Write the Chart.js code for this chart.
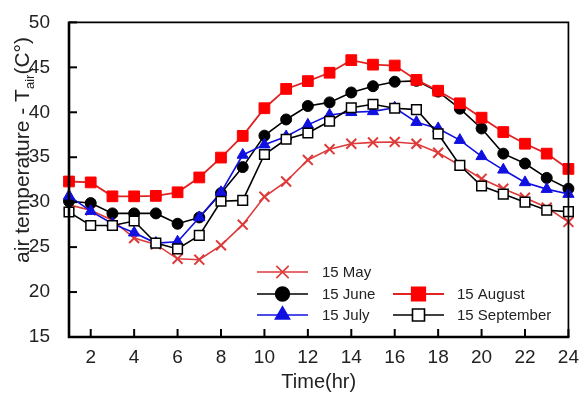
<!DOCTYPE html>
<html>
<head>
<meta charset="utf-8">
<script src="https://cdn.jsdelivr.net/npm/chart.js@4/dist/chart.umd.min.js"></script>
<style>
html,body{margin:0;padding:0;background:#fff}
#wrap{width:580px;height:393px;position:relative}
</style>
</head>
<body>
<div id="wrap"><canvas id="c"></canvas></div>
<script>
// data
const hours=[1,2,3,4,5,6,7,8,9,10,11,12,13,14,15,16,17,18,19,20,21,22,23,24];
const yTicks=[15,20,25,30,35,40,45,50];
const may =[29.7,29.1,28.0,26.0,25.3,23.7,23.6,25.2,27.5,30.6,32.3,34.7,35.9,36.5,36.65,36.7,36.5,35.5,34.1,32.6,31.5,30.5,29.4,27.8];
const june=[30.1,29.9,28.75,28.75,28.75,27.6,28.3,31.0,33.9,37.4,39.2,40.7,41.1,42.2,42.9,43.4,43.5,42.3,40.4,38.2,35.4,34.3,32.7,31.5];
const july=[30.7,29.0,27.6,26.6,25.45,25.6,28.3,31.1,35.25,36.4,37.3,38.6,39.7,40.0,40.1,40.5,38.9,38.2,36.9,35.1,33.6,32.2,31.45,30.9];
const aug =[32.3,32.2,30.65,30.65,30.7,31.1,32.75,34.96,37.37,40.45,42.6,43.47,44.4,45.8,45.3,45.2,43.6,42.4,41.0,39.4,37.8,36.5,35.4,33.7];
const sep =[28.9,27.4,27.4,27.9,25.45,24.8,26.3,30.1,30.2,35.3,37.0,37.7,39.0,40.5,40.9,40.45,40.3,37.6,34.1,31.8,30.9,30.0,29.1,28.95];

const FONT='"Liberation Sans", Arial, sans-serif';
const RED='#e02424', RED2='#dd3a3a', BLUE='#1010e0';

// legend slots: [dataset index, line start x, text x, y]
const legendSlots=[[0,257,322,272],[1,257,322,294],[2,257,322,315],[3,393,457,294],[4,393,457,315]];

const frame={
  id:'frame',
  afterDraw(chart){
    const {ctx,chartArea:a,scales}=chart;
    ctx.save();
    ctx.strokeStyle='#000';
    // thin top/right
    ctx.lineWidth=1.7;
    ctx.beginPath();ctx.moveTo(a.left,a.top);ctx.lineTo(a.right,a.top);ctx.lineTo(a.right,a.bottom);ctx.stroke();
    // thick left/bottom
    ctx.lineWidth=2.6;
    ctx.beginPath();ctx.moveTo(a.left,a.top-0.8);ctx.lineTo(a.left,a.bottom);ctx.lineTo(a.right+1,a.bottom);ctx.stroke();
    // inward ticks
    ctx.lineWidth=2;
    yTicks.forEach(v=>{
      const y=scales.y.getPixelForValue(v);
      ctx.beginPath();ctx.moveTo(a.left,y);ctx.lineTo(a.left+8,y);ctx.stroke();
    });
    hours.forEach((h,i)=>{
      if(h%2) return;
      const x=scales.x.getPixelForValue(i);
      ctx.beginPath();ctx.moveTo(x,a.bottom);ctx.lineTo(x,a.bottom-8);ctx.stroke();
    });
    // axis titles
    ctx.fillStyle='#222';
    ctx.font='20px '+FONT;
    ctx.textAlign='center';ctx.textBaseline='middle';
    ctx.fillText('Time(hr)',(a.left+a.right)/2,382);
    ctx.translate(22,150);ctx.rotate(-Math.PI/2);
    const parts=[['air temperature - T',21,0],['air',13,5],['(C°)',21,0]];
    let w=0;
    parts.forEach(p=>{ctx.font=p[1]+'px '+FONT;w+=ctx.measureText(p[0]).width;});
    let x=-w/2;
    ctx.textAlign='left';ctx.textBaseline='alphabetic';
    parts.forEach(p=>{ctx.font=p[1]+'px '+FONT;ctx.fillText(p[0],x,7+p[2]);x+=ctx.measureText(p[0]).width;});
    ctx.restore();
  }
};

const legend={
  id:'legendBox',
  afterDraw(chart){
    const ctx=chart.ctx;
    ctx.save();
    legendSlots.forEach(([i,x0,tx,y])=>{
      const ds=chart.data.datasets[i];
      ctx.strokeStyle=ds.borderColor;ctx.lineWidth=ds.borderWidth;
      ctx.beginPath();ctx.moveTo(x0,y);ctx.lineTo(x0+51,y);ctx.stroke();
      ctx.fillStyle=ds.pointBackgroundColor;ctx.strokeStyle=ds.pointBorderColor;
      Chart.helpers.drawPoint(ctx,{pointStyle:ds.pointStyle,radius:ds.pointRadius*1.25,rotation:0,borderWidth:ds.pointBorderWidth},x0+25.5,y);
      ctx.fillStyle='#222';ctx.font='15px '+FONT;ctx.textAlign='left';ctx.textBaseline='middle';
      ctx.fillText(ds.label,tx,y+1);
    });
    ctx.restore();
  }
};

new Chart(document.getElementById('c'),{
  type:'line',
  data:{
    labels:hours,
    datasets:[
      {label:'15 May',data:may,borderColor:RED2,borderWidth:1.6,pointStyle:'crossRot',pointRadius:7,pointBorderWidth:2,pointBorderColor:RED2,pointBackgroundColor:RED2,order:5},
      {label:'15 June',data:june,borderColor:'#000',borderWidth:1.6,pointStyle:'circle',pointRadius:5.5,pointBorderWidth:1,pointBorderColor:'#000',pointBackgroundColor:'#000',order:4},
      {label:'15 July',data:july,borderColor:BLUE,borderWidth:1.6,pointStyle:'triangle',pointRadius:6.5,pointBorderWidth:1,pointBorderColor:BLUE,pointBackgroundColor:BLUE,order:3},
      {label:'15 August',data:aug,borderColor:RED,borderWidth:1.8,pointStyle:'rect',pointRadius:7.6,pointBorderWidth:1,pointBorderColor:'#f00',pointBackgroundColor:'#f00',order:2},
      {label:'15 September',data:sep,borderColor:'#000',borderWidth:1.6,pointStyle:'rect',pointRadius:6.8,pointBorderWidth:1.5,pointBorderColor:'#000',pointBackgroundColor:'#fff',order:1}
    ]
  },
  options:{
    responsive:true,maintainAspectRatio:false,animation:false,
    layout:{padding:{left:0,top:12,right:8,bottom:0}},
    plugins:{legend:{display:false},tooltip:{enabled:false}},
    elements:{line:{tension:0}},
    scales:{
      x:{
        type:'category',offset:false,
        grid:{display:false},border:{display:false},
        afterFit:s=>{s.height=56;},
        ticks:{autoSkip:false,maxRotation:0,padding:1,color:'#222',font:{family:FONT,size:19},
          callback:(v,i)=>hours[i]%2===0?String(hours[i]):''}
      },
      y:{
        min:15,max:50,
        grid:{display:false},border:{display:false},
        afterFit:s=>{s.width=69;},
        ticks:{stepSize:5,padding:11,color:'#222',font:{family:FONT,size:19}}
      }
    }
  },
  plugins:[frame,legend]
});
</script>
</body>
</html>
